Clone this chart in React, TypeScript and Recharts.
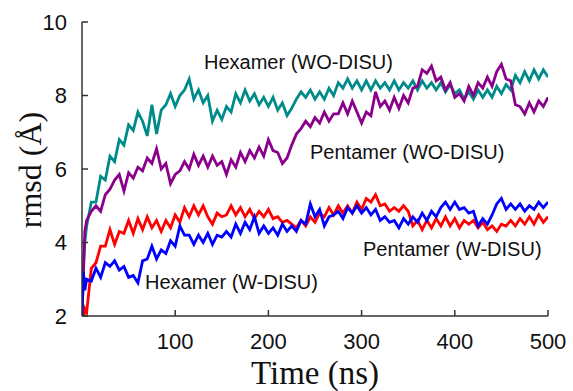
import { LineChart, Line, XAxis, YAxis } from 'recharts'

// simulation time (ns)
const time = [
  0, 1.5, 3,
  5, 10, 15, 20, 25, 30, 35, 40, 45, 50,
  55, 60, 65, 70, 75, 80, 85, 90, 95, 100,
  105, 110, 115, 120, 125, 130, 135, 140, 145, 150,
  155, 160, 165, 170, 175, 180, 185, 190, 195, 200,
  205, 210, 215, 220, 225, 230, 235, 240, 245, 250,
  255, 260, 265, 270, 275, 280, 285, 290, 295, 300,
  305, 310, 315, 320, 325, 330, 335, 340, 345, 350,
  355, 360, 365, 370, 375, 380, 385, 390, 395, 400,
  405, 410, 415, 420, 425, 430, 435, 440, 445, 450,
  455, 460, 465, 470, 475, 480, 485, 490, 495, 500,
]

// rmsd (Å) per system
const hexamerWO = [
  2.0, 3.4, 4.0,
  4.45, 5.1, 5.1, 5.8, 5.7, 6.35, 6.2, 6.8, 6.65, 7.2,
  7.05, 7.55, 7.3, 6.9, 7.75, 6.95, 7.6, 7.75, 8.05, 7.7,
  8.0, 8.15, 8.45, 7.9, 8.15, 7.8, 8.0, 7.3, 7.6, 7.35,
  7.7, 7.55, 8.05, 7.8, 8.15, 7.85, 8.05, 7.75, 7.95, 7.7,
  7.95, 7.6, 7.8, 7.45, 7.65, 7.9, 8.1, 7.95, 8.15, 7.9,
  8.1, 7.9, 8.2, 8.0, 8.35, 8.2, 8.45, 8.2, 8.4, 8.15,
  8.4, 8.15, 8.4, 8.2, 8.35, 8.15, 8.4, 8.15, 8.35, 8.2,
  8.4, 8.15, 8.4, 8.2, 8.35, 8.15, 8.35, 8.1, 8.3, 8.05,
  8.15, 7.9, 8.1, 7.9, 8.15, 7.95, 8.15, 7.95, 8.25, 8.05,
  8.3, 8.15, 8.55, 8.35, 8.65, 8.4, 8.7, 8.45, 8.7, 8.5,
]

const pentamerWO = [
  2.0, 3.1, 4.3,
  4.6, 4.85, 5.0, 4.85, 5.3, 5.45, 5.7, 5.85, 5.4, 5.9,
  5.75, 6.05, 5.95, 6.3, 6.15, 6.55, 6.0, 6.15, 5.6, 5.85,
  5.95, 6.2, 6.0, 6.4, 6.1, 6.35, 6.05, 6.35, 6.1, 6.2,
  5.85, 6.25, 6.05, 6.45, 6.2, 6.5, 6.3, 6.6, 6.35, 6.8,
  6.5, 6.45, 6.15, 6.3, 6.65, 6.95, 7.1, 7.3, 7.15, 7.4,
  7.25, 7.55, 7.3, 7.5, 7.5, 7.8, 7.5, 7.85, 7.55, 7.25,
  7.55, 7.45, 8.1, 7.7, 7.85, 7.6, 7.95, 7.65, 8.0, 7.8,
  8.2, 8.25, 8.7, 8.6, 8.8, 8.4, 8.5, 8.15, 8.35, 7.95,
  8.05, 7.85, 8.25, 8.0, 8.35, 8.2, 8.5, 8.25, 8.65, 8.85,
  8.45, 8.4, 7.75, 7.7, 7.5, 7.8, 7.55, 7.85, 7.7, 7.95,
]

const pentamerW = [
  2.0, 1.9, 2.2,
  2.1, 3.3, 3.45, 3.9, 3.9, 4.35, 3.95, 4.3, 4.25, 4.6,
  4.25, 4.65, 4.35, 4.7, 4.4, 4.6, 4.3, 4.6, 4.4, 4.75,
  4.55, 4.95, 4.7, 5.0, 4.75, 5.0, 4.7, 4.5, 4.8, 4.7,
  4.75, 5.0, 4.75, 4.95, 4.7, 4.9, 4.65, 4.85, 4.7, 4.9,
  4.65, 4.7, 4.55, 4.6, 4.5, 4.4, 4.6, 4.45, 4.7, 4.55,
  4.8, 4.7, 4.95, 4.75, 5.0, 4.8, 5.0, 4.8, 5.1, 4.9,
  5.2, 5.1, 5.3, 5.0, 5.05, 4.85, 4.95, 4.85, 5.0, 4.85,
  4.45, 4.6, 4.35, 4.6, 4.4, 4.65, 4.45, 4.7, 4.45, 4.65,
  4.4, 4.6, 4.5, 4.6, 4.4, 4.55, 4.35, 4.45, 4.3, 4.5,
  4.45, 4.6, 4.45, 4.65, 4.5, 4.7, 4.5, 4.75, 4.55, 4.7,
]

const hexamerW = [
  2.0, 3.2, 2.7,
  3.0, 2.95, 3.3, 3.05, 3.45, 3.35, 3.5, 3.25, 3.35, 3.05,
  3.1, 2.9, 3.5, 3.55, 3.9, 3.55, 3.8, 3.7, 4.05, 3.9,
  4.45, 4.2, 4.2, 3.95, 4.2, 4.0, 4.25, 3.95, 4.2, 4.15,
  4.3, 4.15, 4.5, 4.25, 4.55, 4.35, 4.7, 4.25, 4.45, 4.25,
  4.4, 4.2, 4.5, 4.3, 4.45, 4.3, 4.6, 4.5, 5.05, 4.7,
  4.9, 4.45, 4.7, 4.75, 4.85, 4.65, 4.95, 4.8, 5.0, 4.8,
  4.95, 4.75, 4.9, 4.6, 4.7, 4.55, 4.6, 4.4, 4.65, 4.5,
  4.7, 4.55, 4.8, 4.6, 4.85, 4.7, 4.95, 5.1, 4.9, 5.1,
  4.9, 4.95, 4.8, 4.85, 4.45, 4.65, 4.5, 4.75, 5.05, 5.2,
  4.9, 5.05, 4.9, 5.05, 4.85, 5.0, 4.9, 5.1, 4.95, 5.1,
]

const xTicks = [100, 200, 300, 400, 500]
const yTicks = [2, 4, 6, 8, 10]

const data = time.map((t, i) => ({
  t,
  hexWO: hexamerWO[i],
  penWO: pentamerWO[i],
  penW: pentamerW[i],
  hexW: hexamerW[i],
}))

const frame = { stroke: '#333', strokeWidth: 1.5 }
const sans = '"Liberation Sans", Arial, sans-serif'
const serif = '"Liberation Serif", "Times New Roman", serif'
const tickFont = { fontSize: 22, fill: '#111', fontFamily: sans }

const notes = [
  { text: 'Hexamer (WO-DISU)', left: 204, top: 52 },
  { text: 'Pentamer (WO-DISU)', left: 310, top: 142 },
  { text: 'Pentamer (W-DISU)', left: 363, top: 239 },
  { text: 'Hexamer (W-DISU)', left: 145, top: 272 },
]

export default function App() {
  return (
    <div style={{ position: 'absolute', left: 0, top: 0, width: 573, height: 391, background: '#fff' }}>
      <LineChart width={573} height={391} data={data} margin={{ top: 22, right: 25, bottom: 0, left: 0 }}>
        <XAxis
          xAxisId="bottom"
          dataKey="t"
          type="number"
          domain={[0, 500]}
          allowDataOverflow
          ticks={xTicks}
          height={75}
          axisLine={frame}
          tickLine={frame}
          tickSize={-6}
          tickMargin={23}
          tick={tickFont}
        />
        <XAxis
          xAxisId="top"
          orientation="top"
          dataKey="t"
          type="number"
          domain={[0, 500]}
          allowDataOverflow
          ticks={xTicks}
          height={0}
          axisLine={frame}
          tickLine={frame}
          tickSize={-6}
          tick={false}
        />
        <YAxis
          yAxisId="left"
          type="number"
          domain={[2, 10]}
          allowDataOverflow
          ticks={yTicks}
          width={82}
          axisLine={frame}
          tickLine={frame}
          tickSize={-6}
          tickMargin={21}
          tick={tickFont}
        />
        <YAxis
          yAxisId="right"
          orientation="right"
          type="number"
          domain={[2, 10]}
          allowDataOverflow
          ticks={yTicks}
          width={0}
          axisLine={frame}
          tickLine={frame}
          tickSize={-6}
          tick={false}
        />
        <Line xAxisId="bottom" yAxisId="left" dataKey="hexWO" stroke="#008b8b" strokeWidth={2.8} dot={false} isAnimationActive={false} />
        <Line xAxisId="bottom" yAxisId="left" dataKey="penWO" stroke="#8b008b" strokeWidth={2.8} dot={false} isAnimationActive={false} />
        <Line xAxisId="bottom" yAxisId="left" dataKey="penW" stroke="#ff0000" strokeWidth={2.8} dot={false} isAnimationActive={false} />
        <Line xAxisId="bottom" yAxisId="left" dataKey="hexW" stroke="#0000ff" strokeWidth={2.8} dot={false} isAnimationActive={false} />
      </LineChart>

      {notes.map((n) => (
        <div
          key={n.text}
          style={{ position: 'absolute', left: n.left, top: n.top, fontFamily: sans, fontSize: 20, lineHeight: 1, color: '#111', whiteSpace: 'nowrap' }}
        >
          {n.text}
        </div>
      ))}

      {/* axis titles */}
      <div
        style={{
          position: 'absolute', left: 30, top: 170, transform: 'translate(-50%, -50%) rotate(-90deg)',
          fontFamily: serif, fontSize: 32, lineHeight: 1, color: '#111', whiteSpace: 'nowrap',
        }}
      >
        rmsd (Å)
      </div>
      <div
        style={{
          position: 'absolute', left: 315, top: 357, transform: 'translateX(-50%)',
          fontFamily: serif, fontSize: 33, lineHeight: 1, color: '#111', whiteSpace: 'nowrap',
        }}
      >
        Time (ns)
      </div>
    </div>
  )
}
